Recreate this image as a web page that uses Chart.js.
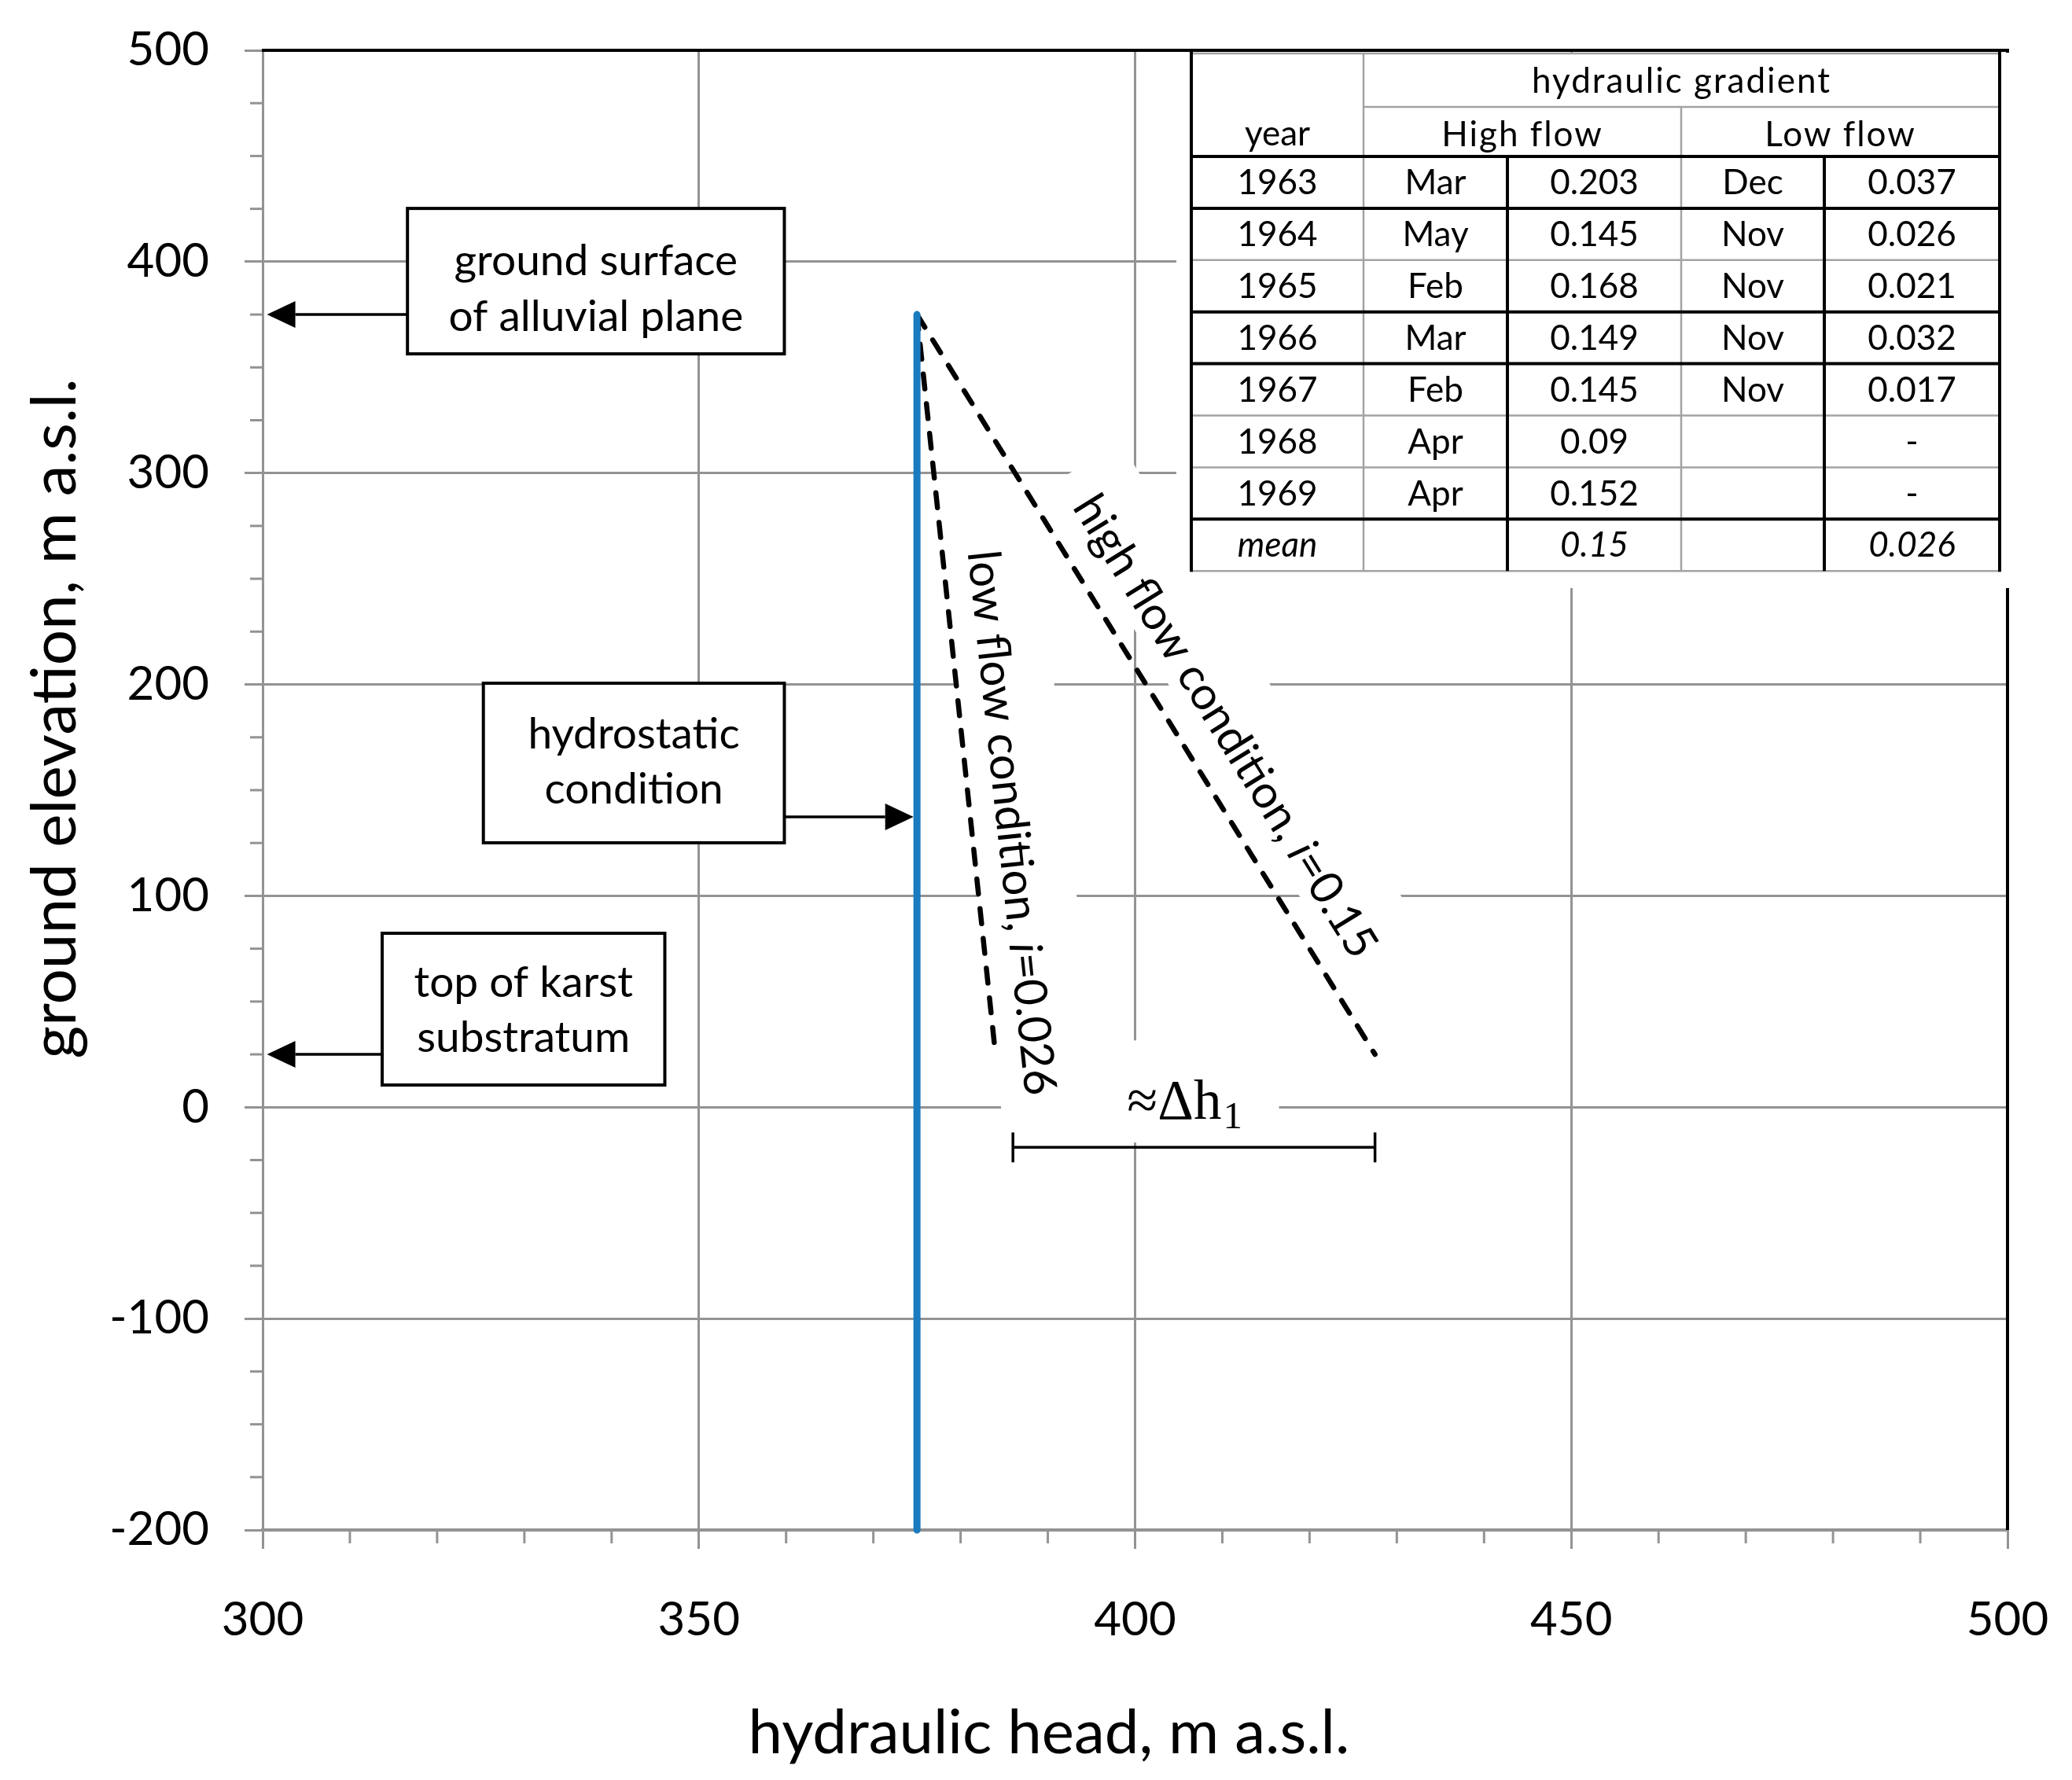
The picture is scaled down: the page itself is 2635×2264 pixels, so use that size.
<!DOCTYPE html>
<html>
<head>
<meta charset="utf-8">
<title>Hydraulic gradient</title>
<script src="https://cdn.jsdelivr.net/npm/chart.js@4.4.1/dist/chart.umd.min.js"></script>
<style>
html,body{margin:0;padding:0;background:#ffffff;}
canvas{display:block;}
</style>
</head>
<body>
<canvas id="chart" width="2635" height="2264" style="width:2635px;height:2264px"></canvas>
<script>
// ---------------- data ----------------
const xTickValues = [300, 350, 400, 450, 500];
const yTickValues = [-200, -100, 0, 100, 200, 300, 400, 500];
const xMinorStep = 10;
const yMinorStep = 25;
const hydrostaticLine = [{x: 375, y: 375}, {x: 375, y: -200}];
const lowFlowLine = [{x: 375, y: 375}, {x: 384, y: 25}];
const highFlowLine = [{x: 375, y: 375}, {x: 427.5, y: 25}];
const deltaHBracket = [{x: 386, y: -19}, {x: 427.5, y: -19}];

const tableYears = ['1963', '1964', '1965', '1966', '1967', '1968', '1969'];
const highFlowMonths = ['Mar', 'May', 'Feb', 'Mar', 'Feb', 'Apr', 'Apr'];
const highFlowGradient = [0.203, 0.145, 0.168, 0.149, 0.145, 0.09, 0.152];
const lowFlowMonths = ['Dec', 'Nov', 'Nov', 'Nov', 'Nov', '', ''];
const lowFlowGradient = [0.037, 0.026, 0.021, 0.032, 0.017, null, null];
const meanHighGradient = 0.15;
const meanLowGradient = 0.026;

// ---------------- text annotations (anchored in data units) ----------------
const boxNotes = [
  {lines: ['ground surface', 'of alluvial plane'], x1: 316.6, x2: 359.8, y1: 425.2, y2: 356.4,
   dy: [-25, 46], arrow: {y: 375, from: 'left', toX: 300.5}},
  {lines: ['hydrostatic', 'condition'], x1: 325.3, x2: 359.8, y1: 200.6, y2: 125.1,
   dy: [-36, 34], arrow: {y: 137.4, from: 'right', toX: 374.6}},
  {lines: ['top of karst', 'substratum'], x1: 313.7, x2: 346.1, y1: 82.3, y2: 10.5,
   dy: [-33, 37], arrow: {y: 25, from: 'left', toX: 300.5}}
];
const slopeNotes = [
  {parts: [['low flow condition, ', false], ['i', true], ['=' + meanLowGradient, false]],
   line: lowFlowLine, cx: 385.8, cy: 134.5, half: 380, sUp: 73, sDown: 51},
  {parts: [['high flow condition, ', false], ['i', true], ['=' + meanHighGradient, false]],
   line: highFlowLine, cx: 410.3, cy: 180.1, half: 378, sUp: 77, sDown: 33}
];
const deltaNote = {main: '\u2248\u0394h', sub: '1', cx: 405.6, baseY: -5.5, bx1: 386.0, bx2: 416.5, by1: 31.6, by2: -16.7};

// ---------------- styles / layout ----------------
const GRID = '#939393';
const FONT = 'Lato';
const TARGET_AREA = {left: 334, top: 64, right: 2553, bottom: 1946};
const TABLE = {cols: [1515, 1734, 1917, 2138, 2320, 2543], top: 68, head1: 136, head2: 199, rowH: 65.9,
               bg: [1496, 67, 2562, 748], thin: '#a3a3a3', font: 44};

function seg(ctx, x1, y1, x2, y2) { ctx.beginPath(); ctx.moveTo(x1, y1); ctx.lineTo(x2, y2); ctx.stroke(); }

function drawArrow(ctx, x1, y1, x2, y2) {
  const head = 36, hw = 17;
  const a = Math.atan2(y2 - y1, x2 - x1);
  const bx = x2 - head * Math.cos(a), by = y2 - head * Math.sin(a);
  ctx.strokeStyle = '#000'; ctx.lineWidth = 3.5;
  seg(ctx, x1, y1, bx, by);
  ctx.beginPath();
  ctx.moveTo(x2, y2);
  ctx.lineTo(bx - hw * Math.sin(a), by + hw * Math.cos(a));
  ctx.lineTo(bx + hw * Math.sin(a), by - hw * Math.cos(a));
  ctx.closePath(); ctx.fillStyle = '#000'; ctx.fill();
}

function drawTable(ctx) {
  const L = TABLE, c = L.cols;
  ctx.fillStyle = '#fff';
  ctx.fillRect(L.bg[0], L.bg[1], L.bg[2] - L.bg[0], L.bg[3] - L.bg[1]);
  const rowTop = i => L.head2 + i * L.rowH;
  const bottom = rowTop(8);
  ctx.strokeStyle = L.thin; ctx.lineWidth = 2.5;
  seg(ctx, c[0], L.top, c[5], L.top);
  seg(ctx, c[1], L.head1, c[5], L.head1);
  seg(ctx, c[1], L.top, c[1], bottom);
  seg(ctx, c[3], L.head1, c[3], bottom);
  [2, 5, 6, 8].forEach(i => seg(ctx, c[0], rowTop(i), c[5], rowTop(i)));
  ctx.strokeStyle = '#000'; ctx.lineWidth = 4;
  [0, 1, 3, 4, 7].forEach(i => seg(ctx, c[0], rowTop(i), c[5], rowTop(i)));
  seg(ctx, c[0], L.top - 2, c[0], bottom + 1);
  seg(ctx, c[5], L.top - 2, c[5], bottom + 1);
  seg(ctx, c[2], L.head2, c[2], bottom);
  seg(ctx, c[4], L.head2, c[4], bottom);

  ctx.fillStyle = '#000'; ctx.textAlign = 'center'; ctx.textBaseline = 'middle';
  const reg = L.font + 'px ' + FONT, ita = 'italic ' + L.font + 'px ' + FONT;
  const mid = k => (c[k] + c[k + 1]) / 2;
  ctx.font = reg;
  ctx.fillText('year', mid(0), 171);
  ctx.save(); ctx.letterSpacing = '2px';
  ctx.fillText('hydraulic gradient', (c[1] + c[5]) / 2, 104);
  ctx.fillText('High flow', (c[1] + c[3]) / 2, 172);
  ctx.fillText('Low flow', (c[3] + c[5]) / 2, 172);
  ctx.restore();
  ctx.font = reg; ctx.textAlign = 'center'; ctx.textBaseline = 'middle'; ctx.fillStyle = '#000';
  for (let i = 0; i < tableYears.length; i++) {
    const yy = rowTop(i) + L.rowH / 2 + 1;
    ctx.fillText(tableYears[i], mid(0), yy);
    ctx.fillText(highFlowMonths[i], mid(1), yy);
    ctx.fillText(String(highFlowGradient[i]), mid(2), yy);
    ctx.fillText(lowFlowMonths[i], mid(3), yy);
    ctx.fillText(lowFlowGradient[i] === null ? '-' : String(lowFlowGradient[i]), mid(4), yy);
  }
  const ym = rowTop(7) + L.rowH / 2 + 1;
  ctx.font = ita;
  ctx.fillText('mean', mid(0), ym);
  ctx.fillText(String(meanHighGradient), mid(2), ym);
  ctx.fillText(String(meanLowGradient), mid(4), ym);
}

const overlay = {
  id: 'overlay',
  beforeDatasetsDraw(chart) {
    const {ctx, chartArea: a, scales: {x, y}} = chart;
    ctx.save();
    // minor ticks
    ctx.strokeStyle = GRID; ctx.lineWidth = 3;
    for (let v = x.min; v <= x.max; v += xMinorStep) {
      if (xTickValues.includes(v)) continue;
      const p = x.getPixelForValue(v);
      seg(ctx, p, a.bottom, p, a.bottom + 17);
    }
    for (let v = y.min; v <= y.max; v += yMinorStep) {
      if (yTickValues.includes(v)) continue;
      const p = y.getPixelForValue(v);
      seg(ctx, a.left - 16, p, a.left, p);
    }
    // right frame (partly hidden by the table)
    ctx.strokeStyle = '#000'; ctx.lineWidth = 4;
    seg(ctx, a.right, a.top, a.right, a.bottom);

    // boxes
    boxNotes.forEach(b => {
      const X1 = x.getPixelForValue(b.x1), X2 = x.getPixelForValue(b.x2);
      const Y1 = y.getPixelForValue(b.y1), Y2 = y.getPixelForValue(b.y2);
      ctx.fillStyle = '#fff'; ctx.fillRect(X1, Y1, X2 - X1, Y2 - Y1);
      ctx.strokeStyle = '#000'; ctx.lineWidth = 4; ctx.strokeRect(X1, Y1, X2 - X1, Y2 - Y1);
      ctx.fillStyle = '#000'; ctx.font = '55px ' + FONT; ctx.textAlign = 'center'; ctx.textBaseline = 'middle';
      const cx = (X1 + X2) / 2, cy = (Y1 + Y2) / 2;
      b.lines.forEach((t, k) => ctx.fillText(t, cx, cy + b.dy[k]));
    });

    // delta h label background
    const d = deltaNote;
    const bx1 = x.getPixelForValue(d.bx1), bx2 = x.getPixelForValue(d.bx2);
    const by1 = y.getPixelForValue(d.by1), by2 = y.getPixelForValue(d.by2);
    ctx.fillStyle = '#fff'; ctx.fillRect(bx1, by1, bx2 - bx1, by2 - by1);

    // rotated slope labels
    slopeNotes.forEach(n => {
      const p0x = x.getPixelForValue(n.line[0].x), p0y = y.getPixelForValue(n.line[0].y);
      const p1x = x.getPixelForValue(n.line[1].x), p1y = y.getPixelForValue(n.line[1].y);
      const ang = Math.atan2(p1y - p0y, p1x - p0x);
      ctx.save();
      ctx.translate(x.getPixelForValue(n.cx), y.getPixelForValue(n.cy));
      ctx.rotate(ang);
      ctx.fillStyle = '#fff';
      ctx.fillRect(-n.half, -n.sUp, 2 * n.half, n.sUp + n.sDown);
      const size = 58;
      let total = 0;
      n.parts.forEach(([t, it]) => { ctx.font = (it ? 'italic ' : '') + size + 'px ' + FONT; total += ctx.measureText(t).width; });
      let cur = -total / 2;
      ctx.fillStyle = '#000'; ctx.textAlign = 'left'; ctx.textBaseline = 'middle';
      n.parts.forEach(([t, it]) => {
        ctx.font = (it ? 'italic ' : '') + size + 'px ' + FONT;
        ctx.fillText(t, cur, 0);
        cur += ctx.measureText(t).width;
      });
      ctx.restore();
    });

    // table (on top of the label backgrounds)
    drawTable(ctx);

    // top frame
    ctx.strokeStyle = '#000'; ctx.lineWidth = 4;
    seg(ctx, a.left - 1, a.top, a.right + 2, a.top);

    // delta h label text
    ctx.font = '71px "Liberation Serif"';
    const wMain = ctx.measureText(d.main).width;
    ctx.font = '49px "Liberation Serif"';
    const wSub = ctx.measureText(d.sub).width;
    const start = x.getPixelForValue(d.cx) - (wMain + wSub) / 2;
    const base = y.getPixelForValue(d.baseY);
    ctx.fillStyle = '#000'; ctx.textAlign = 'left'; ctx.textBaseline = 'alphabetic';
    ctx.font = '71px "Liberation Serif"'; ctx.fillText(d.main, start, base);
    ctx.font = '49px "Liberation Serif"'; ctx.fillText(d.sub, start + wMain + 2, base + 12);
    ctx.restore();
  },
  afterDatasetsDraw(chart) {
    const {ctx, scales: {x, y}} = chart;
    ctx.save();
    boxNotes.forEach(b => {
      const yy = y.getPixelForValue(b.arrow.y);
      const fromX = x.getPixelForValue(b.arrow.from === 'left' ? b.x1 : b.x2);
      drawArrow(ctx, fromX, yy, x.getPixelForValue(b.arrow.toX), yy);
    });
    ctx.restore();
  },
  afterDraw(chart) {
    const {ctx} = chart;
    ctx.save();
    ctx.fillStyle = '#000'; ctx.textAlign = 'center'; ctx.textBaseline = 'middle';
    ctx.font = '78px ' + FONT;
    ctx.fillText('hydraulic head, m a.s.l.', 1334, 2205);
    ctx.translate(70, 914);
    ctx.rotate(-Math.PI / 2);
    ctx.font = '80px ' + FONT;
    ctx.fillText('ground elevation, m a.s.l.', 0, 0);
    ctx.restore();
  }
};

Chart.defaults.font.family = FONT;

const chart = new Chart(document.getElementById('chart'), {
  type: 'scatter',
  data: {
    datasets: [
      {label: 'hydrostatic condition', data: hydrostaticLine, showLine: true, borderColor: '#1a7bbf',
       borderWidth: 9, pointRadius: 0, borderCapStyle: 'round', clip: false},
      {label: 'low flow condition', data: lowFlowLine, showLine: true, borderColor: '#000',
       borderWidth: 6.5, borderDash: [19, 19], borderCapStyle: 'round', pointRadius: 0, clip: false},
      {label: 'high flow condition', data: highFlowLine, showLine: true, borderColor: '#000',
       borderWidth: 6.5, borderDash: [19, 19], borderCapStyle: 'round', pointRadius: 0, clip: false},
      {label: 'delta h', data: deltaHBracket, showLine: true, borderColor: '#000', borderWidth: 3.5,
       pointStyle: 'line', pointRadius: 19, pointRotation: 90, pointBorderColor: '#000',
       pointBorderWidth: 3.5, pointBackgroundColor: '#000', clip: false}
    ]
  },
  options: {
    responsive: false,
    animation: false,
    devicePixelRatio: 1,
    layout: {padding: {left: 0, right: 82, top: 64, bottom: 0}},
    plugins: {legend: {display: false}, tooltip: {enabled: false}},
    scales: {
      x: {
        type: 'linear', min: 300, max: 500,
        ticks: {stepSize: 50, autoSkip: false, maxRotation: 0, color: '#000', padding: 55,
                font: {family: FONT, size: 60},
                callback: v => xTickValues.includes(v) ? String(v) : ''},
        grid: {color: GRID, lineWidth: 3, tickLength: 24, tickColor: GRID, tickWidth: 3},
        border: {color: GRID, width: 4},
        afterFit: s => { s.height = 318; s.paddingLeft = 0; s.paddingRight = 0; }
      },
      y: {
        type: 'linear', min: -200, max: 500,
        ticks: {stepSize: 100, autoSkip: false, color: '#000', padding: 45,
                font: {family: FONT, size: 60},
                callback: v => yTickValues.includes(v) ? String(v) : ''},
        grid: {color: GRID, lineWidth: 3, tickLength: 23, tickColor: GRID, tickWidth: 3},
        border: {color: GRID, width: 3},
        afterFit: s => { s.width = 334; s.paddingTop = 0; s.paddingBottom = 0; }
      }
    }
  },
  plugins: [overlay]
});

// nudge the layout padding so the plot area lands where the reference has it
for (let k = 0; k < 5; k++) {
  const a = chart.chartArea;
  const p = chart.options.layout.padding;
  const dT = TARGET_AREA.top - a.top, dR = a.right - TARGET_AREA.right;
  const dL = TARGET_AREA.left - a.left, dB = a.bottom - TARGET_AREA.bottom;
  if (Math.abs(dT) < 0.5 && Math.abs(dR) < 0.5 && Math.abs(dL) < 0.5 && Math.abs(dB) < 0.5) break;
  p.top += dT; p.right += dR; p.left += dL; p.bottom += dB;
  chart.update();
}
</script>
</body>
</html>
